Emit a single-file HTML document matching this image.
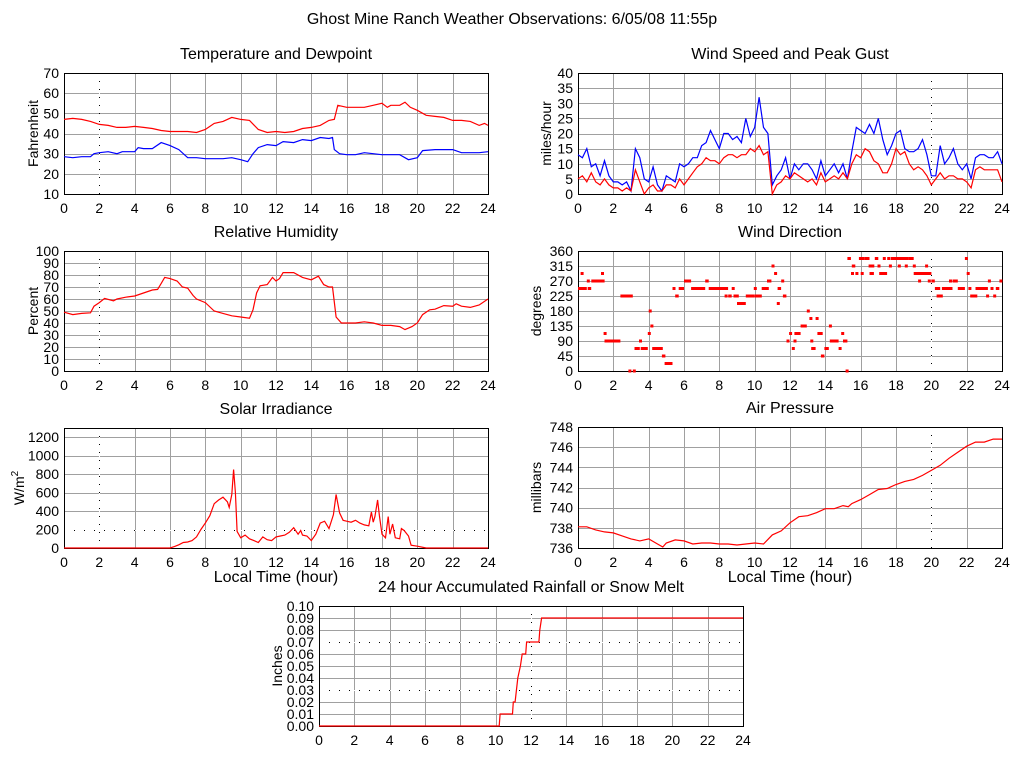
<!DOCTYPE html>
<html><head><meta charset="utf-8"><style>
html,body{margin:0;padding:0;background:#fff;}
svg{display:block;font-family:"Liberation Sans",sans-serif;}
</style></head><body>
<svg id="root" width="1024" height="768" viewBox="0 0 1024 768">
<rect x="0" y="0" width="1024" height="768" fill="#fff"/>
<text x="512" y="24" text-anchor="middle" font-size="16">Ghost Mine Ranch Weather Observations: 6/05/08 11:55p</text>
</svg>
<script>
// ---------- data ----------
const hoursTicks = [0,2,4,6,8,10,12,14,16,18,20,22,24];
const tempTimes = [0,0.5,1,1.5,2,2.5,3,3.5,4,4.5,5,5.5,6,6.5,7,7.5,8,8.5,9,9.5,10,10.5,11,11.5,12,12.5,13,13.5,14,14.5,15,15.3,15.5,16,16.5,17,17.5,18,18.3,18.5,19,19.3,19.6,20,20.5,21,21.5,22,22.5,23,23.5,23.8,24];
const tempVals = [47,47.5,47,46,44.5,44,43,43,43.5,43,42.5,41.5,41,41,41,40.5,42,45,46,48,47,46.5,42,40.5,41,40.5,41,42.5,43,44,46.5,47,54,53,53,53,54,55,53,54,54,55.5,53,51.5,49,48.5,48,46.5,46.5,46,44,45,44];
const dewTimes = [0,0.5,1,1.5,1.7,2,2.5,3,3.3,4,4.2,4.5,5,5.5,6,6.5,7,7.5,8,9,9.5,10,10.4,10.7,11,11.5,12,12.4,13,13.5,14,14.5,15,15.2,15.3,15.6,16,16.5,17,17.5,18,18.5,19,19.5,20,20.3,21,21.5,22,22.5,23,23.5,24];
const dewVals = [28.5,28,28.5,28.5,30,30.5,31,30,31,31,33,32.5,32.5,35.5,34,32,28,28,27.5,27.5,28,27,26,30,33,34.5,34,36,35.5,37,36.5,38,37.5,38,32,30,29.5,29.5,30.5,30,29.5,29.5,29.5,27,28,31.5,32,32,32,30.5,30.5,30.5,31];
const rhTimes = [0,0.5,1,1.5,1.7,2,2.3,2.8,3,3.5,4,4.5,5,5.3,5.5,5.7,6,6.4,6.7,7,7.3,7.5,8,8.5,9,9.5,10,10.5,10.7,10.9,11.1,11.5,11.8,12,12.2,12.4,13,13.5,14,14.4,14.7,15,15.2,15.4,15.7,16,16.5,17,17.5,18,18.5,19,19.3,19.7,20,20.3,20.7,21,21.5,22,22.2,22.5,23,23.5,24];
const rhVals = [49,47,48,48.5,54,57,60.5,58.5,60,61.5,62.5,65,67.5,68,73,78,77,75,70,69,63,60,57,50,48,46,45,44,51,65,71,72,78,75,77,82,82,78,76,79,72,70,70,45,40,40,40,41,40,38,38,37,34.5,37,40,47,51,51.5,54.5,54,56,54,53,55,60];
const windTimes = Array.from({length:97},(_,i)=>i*0.25);
const gustVals = [13,12,15,9, 10,6,11,6, 4,4,3,4, 1,15,12,5, 4,9,3,1, 6,5,4,10, 9,10,12,12, 16,17,21,18, 15,20,20,18, 19,17,25,19, 22,32,22,20, 3,6,8,12, 5,10,8,10, 10,8,5,11, 6,8,10,7, 10,5,14,22, 21,20,23,20, 25,18,13,16, 20,21,15,14, 14,15,18,13, 6,6,16,10, 12,15,10,8, 10,5,12,13, 13,12,12,14, 10];
const speedVals = [5,6,4,7, 4,3,5,3, 2,2,1,2, 1,8,4,0, 2,3,1,1, 3,3,2,5, 3,5,7,9, 10,12,11,11, 10,12,13,13, 12,13,13,15, 14,16,13,14, 0,3,4,6, 5,7,6,5, 4,5,3,7, 4,5,6,5, 7,5,10,13, 12,15,14,11, 10,7,7,10, 15,13,14,10, 8,9,8,6, 3,5,7,5, 6,6,5,5, 4,2,8,9, 8,8,8,8, 4];
const dirStart = [0,0.15,0.5,0.55,0.75,1.3,1.45,1.5,2.4,2.85,3.1,3.2,3.45,3.55,3.95,4.0,4.1,4.2,4.75,4.9,5.35,5.5,5.7,6.0,6.4,7.2,7.4,8.3,8.5,8.7,8.8,9.0,9.5,9.95,10.0,10.4,10.7,10.95,11.1,11.25,11.3,11.5,11.6,11.8,11.95,12.1,12.2,12.25,12.6,12.95,13.1,13.15,13.2,13.45,13.55,13.75,13.95,14.2,14.25,14.75,14.9,15.0,15.15,15.25,15.45,15.5,15.7,15.9,16.0,16.2,16.45,16.5,16.6,16.8,16.95,17.05,17.25,17.5,17.6,17.7,18.1,18.5,18.7,18.95,19.0,19.25,19.65,19.8,20.0,20.2,20.3,20.6,21.0,21.2,21.5,21.9,22.0,22.1,22.2,22.5,23.1,23.2,23.35,23.5,23.65,23.85];
const dirEnd = [0.5,0.2,0.55,0.75,1.5,1.35,1.5,2.4,3.1,3.0,3.2,3.5,3.55,3.95,4.05,4.05,4.2,4.8,4.95,5.35,5.45,5.7,6.0,6.4,7.2,7.4,8.5,8.35,8.7,8.8,9.1,9.5,10.0,10.05,10.4,10.8,10.95,11.1,11.2,11.3,11.5,11.6,11.8,11.95,12.1,12.2,12.25,12.6,12.95,13.1,13.15,13.2,13.45,13.55,13.85,13.95,14.2,14.25,14.75,14.9,15.0,15.25,15.25,15.45,15.55,15.7,15.8,16.2,16.1,16.5,16.5,16.75,16.65,17.0,17.05,17.5,17.3,17.55,17.7,18.7,18.2,18.55,19.0,19.05,20.0,19.3,19.7,19.85,20.2,20.5,20.65,21.2,21.05,21.5,21.9,22.0,22.1,22.2,22.6,23.2,23.15,23.35,23.5,23.65,23.85,24];
const dirVals = [247.5,292.5,270,247.5,270,292.5,112.5,90,225,0,0,67.5,90,67.5,112.5,180,135,67.5,45,22.5,247.5,225,247.5,270,247.5,270,247.5,225,225,247.5,225,202.5,225,247.5,225,247.5,270,315,292.5,202.5,247.5,270,225,90,112.5,67.5,90,112.5,135,180,157.5,90,67.5,157.5,112.5,45,67.5,135,90,67.5,112.5,90,0,337.5,292.5,315,292.5,337.5,292.5,337.5,315,292.5,315,337.5,315,292.5,337.5,337.5,315,337.5,315,315,337.5,315,292.5,270,315,270,270,247.5,225,247.5,270,270,247.5,337.5,292.5,247.5,225,247.5,225,270,247.5,225,247.5,270];
const solarTimes = [0,6,6.25,6.5,6.75,7,7.25,7.5,7.75,8,8.25,8.5,8.75,9,9.25,9.35,9.5,9.6,9.7,9.8,10,10.25,10.5,10.75,11,11.25,11.5,11.75,12,12.25,12.5,12.75,13,13.25,13.4,13.5,13.75,14,14.25,14.5,14.75,15,15.25,15.4,15.6,15.8,16,16.25,16.5,16.75,17,17.25,17.4,17.5,17.6,17.75,17.85,18,18.2,18.35,18.45,18.6,18.75,19,19.1,19.25,19.5,19.65,20,20.5,24];
const solarVals = [0,0,15,35,60,65,80,120,200,270,350,480,520,550,500,440,580,850,600,180,110,140,100,80,60,120,90,80,120,130,140,170,220,150,190,140,130,80,150,270,290,210,360,580,380,300,290,280,300,270,250,240,390,280,340,520,350,150,110,340,150,260,110,100,210,190,130,30,20,0,0];
const presTimes = [0,0.5,1,1.5,2,2.5,3,3.5,4,4.5,4.8,5,5.5,6,6.5,7,7.5,8,8.5,9,9.5,10,10.5,11,11.5,12,12.5,13,13.5,14,14.5,15,15.3,15.5,16,16.5,17,17.5,18,18.5,19,19.5,20,20.5,21,21.5,22,22.5,23,23.5,24];
const presVals = [738.1,738.1,737.8,737.6,737.5,737.2,736.9,736.7,736.9,736.4,736.1,736.5,736.8,736.7,736.4,736.5,736.5,736.4,736.4,736.3,736.4,736.5,736.4,737.3,737.7,738.5,739.1,739.2,739.5,739.9,739.9,740.2,740.1,740.4,740.8,741.3,741.8,741.9,742.3,742.6,742.8,743.2,743.7,744.2,744.9,745.5,746.1,746.5,746.5,746.8,746.8];
const rainTimes = [0,10.2,10.25,10.95,11.0,11.1,11.25,11.4,11.5,11.6,11.7,11.75,12.45,12.5,12.6,24];
const rainVals = [0,0,0.01,0.01,0.02,0.02,0.04,0.05,0.06,0.06,0.06,0.07,0.07,0.08,0.09,0.09];

// ---------- drawing ----------
const NS='http://www.w3.org/2000/svg';
const root=document.getElementById('root');
function el(tag,attrs,parent){const e=document.createElementNS(NS,tag);for(const k in attrs)e.setAttribute(k,attrs[k]);(parent||root).appendChild(e);return e;}

function makeChart(c){
  const g=el('g',{});
  
  
  const xs=t=>c.x0+(t-0)/24*(c.x1-c.x0);
  const ys=v=>c.y1-(v-c.ymin)/(c.ymax-c.ymin)*(c.y1-c.y0);
  const t=el('text',{x:(c.x0+c.x1)/2,y:c.y0-14,'text-anchor':'middle','font-size':16},g);
  t.textContent=c.title;
  
  
  hoursTicks.forEach(h=>{
    const x=Math.round(xs(h))+0.5;
    const ln=el('line',{x1:x,x2:x,y1:c.y0,y2:c.y1,stroke:'#a0a0a0','stroke-width':1},g);
    
    
    const lb=el('text',{x:xs(h),y:c.y1+19,'text-anchor':'middle','font-size':14},g);
    lb.textContent=h;
    
    
  });
  c.yticks.forEach((v,i)=>{
    const y=Math.round(ys(v))+0.5;
    const ln=el('line',{x1:c.x0,x2:c.x1,y1:y,y2:y,stroke:'#a0a0a0','stroke-width':1},g);
    
    
    const lb=el('text',{x:c.x0-5,y:ys(v)+5,'text-anchor':'end','font-size':14},g);
    lb.textContent=c.ylabels[i];
    
    
  });
  (c.dotX||[]).forEach(h=>{
    const x=Math.round(xs(h))+0.5;
    el('line',{x1:x,x2:x,y1:c.y0,y2:c.y1,stroke:'#fff','stroke-width':1},g);
    el('line',{x1:x,x2:x,y1:c.y0,y2:c.y1,stroke:'#000','stroke-width':1,'stroke-dasharray':'1,7'},g);
  });
  (c.dotY||[]).forEach(v=>{
    const y=Math.round(ys(v))+0.5;
    el('line',{x1:c.x0,x2:c.x1,y1:y,y2:y,stroke:'#fff','stroke-width':1},g);
    el('line',{x1:c.x0,x2:c.x1,y1:y,y2:y,stroke:'#000','stroke-width':1,'stroke-dasharray':'1,9'},g);
  });
  const fr=el('rect',{x:c.x0+0.5,y:c.y0+0.5,width:c.x1-c.x0,height:c.y1-c.y0,fill:'none',stroke:'#000','stroke-width':1},g);
  
  
  const yt=el('text',{x:0,y:0,'text-anchor':'middle','font-size':14,transform:`translate(${c.ytx},${(c.y0+c.y1)/2}) rotate(-90)`},g);
  if(c.ytitleHTML){yt.innerHTML=c.ytitleHTML;}else yt.textContent=c.ytitle;
  
  
  if(c.xtitle){
    const xt=el('text',{x:(c.x0+c.x1)/2,y:c.y1+34,'text-anchor':'middle','font-size':16},g);
    xt.textContent=c.xtitle;
    
    
  }
  (c.series||[]).forEach(s=>{
    const pts=s.t.map((tt,i)=>xs(tt).toFixed(1)+','+ys(s.v[i]).toFixed(1)).join(' ');
    const pl=el('polyline',{points:pts,fill:'none',stroke:s.color,'stroke-width':1.2},g);
    
    
  });
  if(c.dir){
    dirVals.forEach((d,i)=>{
      const xa=xs(dirStart[i]), xb=xs(dirEnd[i]);
      const r=el('rect',{x:xa.toFixed(1),y:(ys(d)-1.5).toFixed(1),width:Math.max(3,xb-xa).toFixed(1),height:3,fill:'#f00'},g);
      
      
    });
  }
}

makeChart({name:'temperature-chart',title:'Temperature and Dewpoint',x0:64,x1:488,y0:73,y1:194,ymin:10,ymax:70,
  yticks:[10,20,30,40,50,60,70],ylabels:['10','20','30','40','50','60','70'],ytitle:'Fahrenheit',ytx:38,dotX:[2],
  series:[{t:tempTimes,v:tempVals,color:'#f00',name:'temperature-line'},{t:dewTimes,v:dewVals,color:'#00f',name:'dewpoint-line'}]});
makeChart({name:'wind-speed-chart',title:'Wind Speed and Peak Gust',x0:578,x1:1002,y0:73,y1:194,ymin:0,ymax:40,
  yticks:[0,5,10,15,20,25,30,35,40],ylabels:['0','5','10','15','20','25','30','35','40'],ytitle:'miles/hour',ytx:551,dotX:[20],
  series:[{t:windTimes,v:gustVals,color:'#00f',name:'gust-line'},{t:windTimes,v:speedVals,color:'#f00',name:'speed-line'}]});
makeChart({name:'humidity-chart',title:'Relative Humidity',x0:64,x1:488,y0:251,y1:371,ymin:0,ymax:100,
  yticks:[0,10,20,30,40,50,60,70,80,90,100],ylabels:['0','10','20','30','40','50','60','70','80','90','100'],ytitle:'Percent',ytx:38,dotX:[2],
  series:[{t:rhTimes,v:rhVals,color:'#f00',name:'humidity-line'}]});
makeChart({name:'wind-direction-chart',title:'Wind Direction',x0:578,x1:1002,y0:251,y1:371,ymin:0,ymax:360,
  yticks:[0,45,90,135,180,225,270,315,360],ylabels:['0','45','90','135','180','225','270','315','360'],ytitle:'degrees',ytx:541,dotX:[20],dir:true});
makeChart({name:'solar-chart',title:'Solar Irradiance',x0:64,x1:488,y0:428,y1:548,ymin:0,ymax:1300,
  yticks:[0,200,400,600,800,1000,1200],ylabels:['0','200','400','600','800','1000','1200'],ytitleHTML:'W/m<tspan dy="-6" font-size="10">2</tspan>',ytx:24,dotX:[2],dotY:[200],xtitle:'Local Time (hour)',
  series:[{t:solarTimes,v:solarVals,color:'#f00',name:'solar-line'}]});
makeChart({name:'pressure-chart',title:'Air Pressure',x0:578,x1:1002,y0:427,y1:548,ymin:736,ymax:748,
  yticks:[736,738,740,742,744,746,748],ylabels:['736','738','740','742','744','746','748'],ytitle:'millibars',ytx:541,dotX:[20],xtitle:'Local Time (hour)',
  series:[{t:presTimes,v:presVals,color:'#f00',name:'pressure-line'}]});
makeChart({name:'rainfall-chart',title:'24 hour Accumulated Rainfall or Snow Melt',x0:319,x1:743,y0:606,y1:726,ymin:0,ymax:0.1,
  yticks:[0,0.01,0.02,0.03,0.04,0.05,0.06,0.07,0.08,0.09,0.1],ylabels:['0.00','0.01','0.02','0.03','0.04','0.05','0.06','0.07','0.08','0.09','0.10'],ytitle:'Inches',ytx:282,dotX:[12],dotY:[0.03,0.07],
  series:[{t:rainTimes,v:rainVals,color:'#f00',name:'rainfall-line'}]});
</script>
</body></html>
